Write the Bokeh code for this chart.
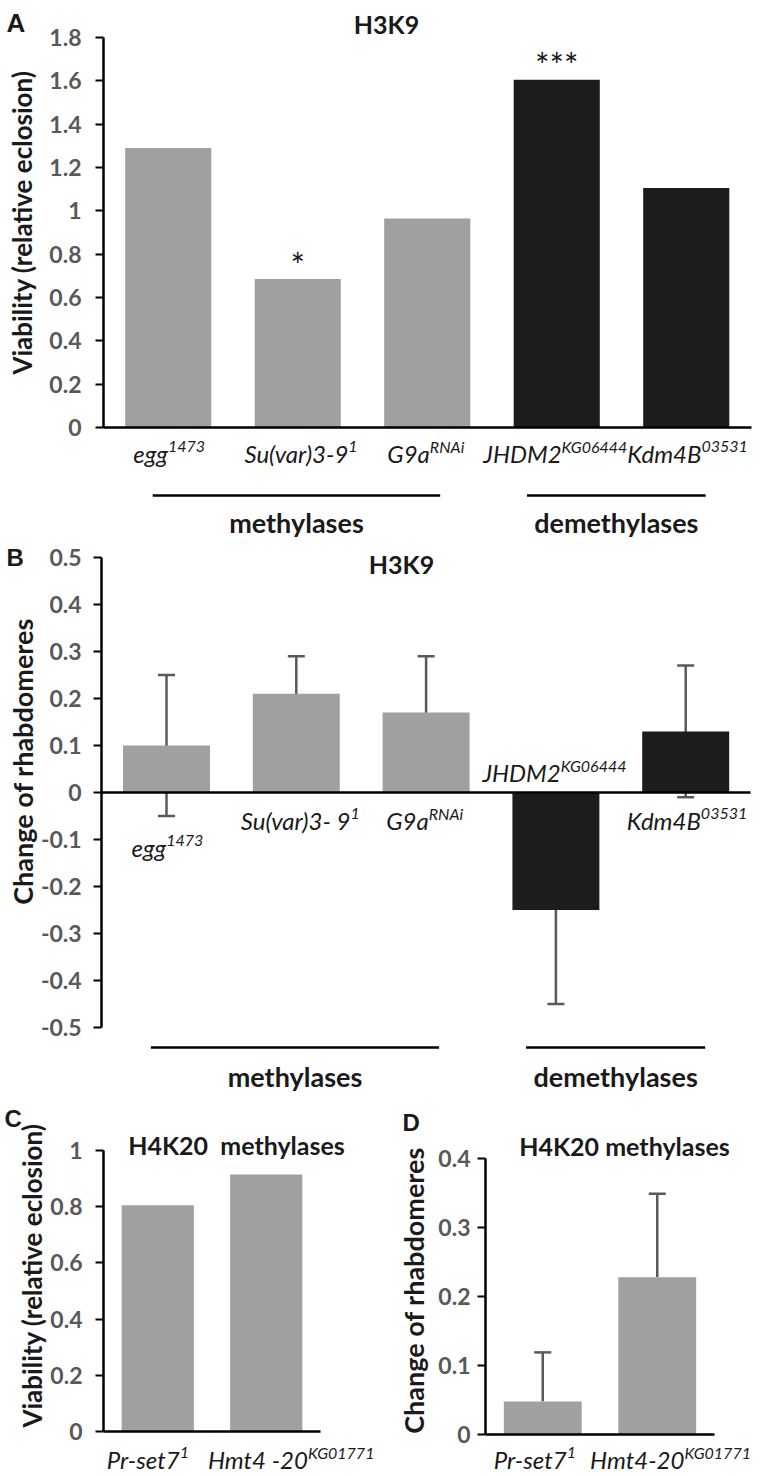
import numpy as np
from bokeh.plotting import figure
from bokeh.models import Range1d, LinearAxis, FixedTicker, ColumnDataSource, Whisker, TeeHead
from bokeh.layouts import column, row
from bokeh.embed import file_html
from bokeh.resources import INLINE
from bokeh.core.properties import value

# ---------------- data ----------------
h3k9_genes = ["egg", "Su(var)3-9", "G9a", "JHDM2", "Kdm4B"]
h3k9_genes_b = ["egg", "Su(var)3- 9", "G9a", "JHDM2", "Kdm4B"]
h3k9_alleles = ["1473", "1", "RNAi", "KG06444", "03531"]
h3k9_groups = ["methylases", "methylases", "methylases", "demethylases", "demethylases"]
viability_h3k9 = [1.29, 0.685, 0.965, 1.605, 1.105]
significance_h3k9 = ["", "*", "", "***", ""]
rhabdomere_h3k9 = [0.10, 0.21, 0.17, -0.25, 0.13]
rhabdomere_h3k9_err = [0.15, 0.08, 0.12, 0.20, 0.14]

h4k20_genes_c = ["Pr-set7", "Hmt4 -20"]
h4k20_genes_d = ["Pr-set7", "Hmt4-20"]
h4k20_alleles = ["1", "KG01771"]
viability_h4k20 = [0.805, 0.915]
rhabdomere_h4k20 = [0.048, 0.228]
rhabdomere_h4k20_err = [0.071, 0.121]

ticks_a = [0, 0.2, 0.4, 0.6, 0.8, 1, 1.2, 1.4, 1.6, 1.8]
ticks_b = [-0.5, -0.4, -0.3, -0.2, -0.1, 0, 0.1, 0.2, 0.3, 0.4, 0.5]
ticks_c = [0, 0.2, 0.4, 0.6, 0.8, 1]
ticks_d = [0, 0.1, 0.2, 0.3, 0.4]

# ---------------- style ----------------
FONT = "Lato"
GREY = "#a0a0a0"
BLACK = "#1c1c1c"
TEXT = "#1a1a1a"
TICK = "#595959"
GROUP_COLORS = {"methylases": GREY, "demethylases": BLACK}


class Panel:
    """Maps page pixels to data coordinates for one figure."""

    def __init__(self, left, top, w, h, x0, dx, y0, v1, y1):
        self.left, self.top, self.w, self.h = left, top, w, h
        self.x0, self.dx, self.y0 = x0, dx, y0
        self.k = (y0 - y1) / v1
        self.p = figure(
            width=w, height=h,
            x_range=Range1d(self.X(left), self.X(left + w)),
            y_range=Range1d(self.Y(top + h), self.Y(top)),
            x_axis_type=None, y_axis_type=None,
            toolbar_location=None, output_backend="svg",
            min_border=0, outline_line_color=None,
        )
        self.p.grid.visible = False

    def X(self, px):
        return (px - self.x0) / self.dx

    def Y(self, py):
        return (self.y0 - py) / self.k

    def text(self, px, py, s, size, style="bold", align="center",
             baseline="alphabetic", color=TEXT, font=FONT, angle=0):
        self.p.text(x=[self.X(px)], y=[self.Y(py)], text=[s],
                    text_font=value(font), text_font_style=style,
                    text_font_size=f"{size}px", text_align=align,
                    text_baseline=baseline, text_color=color, angle=angle)

    def axes(self, ticks, n, standoff):
        lo, hi = min(ticks), max(ticks)
        yax = LinearAxis(
            fixed_location=-0.5, bounds=(lo, hi),
            ticker=FixedTicker(ticks=ticks),
            major_label_overrides={t: f"{t:g}" for t in ticks},
            axis_line_width=2.5, axis_line_color="black",
            major_tick_in=0, major_tick_out=8, major_tick_line_width=2,
            major_tick_line_color="black", minor_tick_line_color=None,
            major_label_standoff=standoff,
            major_label_text_font=FONT, major_label_text_font_style="bold",
            major_label_text_font_size="23px", major_label_text_color=TICK,
        )
        self.p.add_layout(yax, "left")
        xax = LinearAxis(
            fixed_location=0, bounds=(-0.5, n - 0.5),
            ticker=FixedTicker(ticks=[]),
            axis_line_width=2.5, axis_line_color="black",
            major_tick_line_color=None, minor_tick_line_color=None,
            major_label_text_font_size="0px",
        )
        self.p.add_layout(xax, "below")


def est_width(s, fs):
    w = 0.0
    for ch in s:
        if ch.isdigit():
            w += 0.56
        elif ch in "il()-. ":
            w += 0.29
        elif ch.isupper():
            w += 0.64
        elif ch in "mw":
            w += 0.80
        else:
            w += 0.49
    return w * fs


def category_labels(P, genes, alleles, dy, shifts=None, fs=24, fs_sup=16, raise_px=7):
    n = len(genes)
    shifts = shifts or [0] * n
    xs = list(range(n))
    offs_base = []
    for g, a, s in zip(genes, alleles, shifts):
        wb, ws = est_width(g, fs), est_width(a, fs_sup)
        offs_base.append((wb - ws) / 2 + s)
    src = ColumnDataSource(dict(x=xs, y=[0] * n, g=genes, a=alleles,
                                xo=offs_base, yo=list(dy),
                                yo2=[d - raise_px for d in dy]))
    P.p.text(x="x", y="y", text="g", source=src, x_offset="xo", y_offset="yo",
             text_font=value(FONT), text_font_style="italic",
             text_font_size=f"{fs}px", text_align="right",
             text_baseline="alphabetic", text_color=TEXT)
    P.p.text(x="x", y="y", text="a", source=src, x_offset="xo", y_offset="yo2",
             text_font=value(FONT), text_font_style="italic",
             text_font_size=f"{fs_sup}px", text_align="left",
             text_baseline="alphabetic", text_color=TEXT)


def group_marks(P, groups, spans, line_py, text_py):
    names = list(dict.fromkeys(groups))
    for name in names:
        a, b = spans[name]
        P.p.segment(x0=[a], y0=[P.Y(line_py)], x1=[b], y1=[P.Y(line_py)],
                    line_color="black", line_width=2.5)
        cx = P.x0 + P.dx * (a + b) / 2
        P.text(cx, text_py, name, 27)


GROUP_SPANS = {"methylases": (-0.12, 2.10), "demethylases": (2.77, 4.15)}

# ---------------- panel A ----------------
A = Panel(0, 0, 760, 538, 167.75, 129.5, 427, 1.8, 37)
nA = len(h3k9_genes)
colorsA = [GROUP_COLORS[g] for g in h3k9_groups]
A.p.vbar(x=list(range(nA)), top=viability_h3k9, width=0.665,
         fill_color=colorsA, line_color=None)
A.p.text(x=list(range(nA)), y=viability_h3k9, text=significance_h3k9,
         y_offset=-15, text_font=value(FONT), text_font_size="34px",
         text_align="center", text_baseline="alphabetic", text_color=TEXT)
A.axes(ticks_a, nA, 14)
category_labels(A, h3k9_genes, h3k9_alleles, [26] * nA)
group_marks(A, h3k9_groups, GROUP_SPANS, 495, 522)
A.text(386, 23, "H3K9", 25)
A.text(6, 22, "A", 26, font="Liberation Sans", align="left")
A.text(21, 222, "Viability (relative eclosion)", 26, baseline="middle", angle=np.pi / 2)

# ---------------- panel B ----------------
B = Panel(0, 538, 760, 556, 166, 129.8, 792, 0.5, 557)
nB = len(h3k9_genes_b)
B.p.vbar(x=list(range(nB)), top=rhabdomere_h3k9, width=0.67,
         fill_color=colorsA, line_color=None)
errB = ColumnDataSource(dict(
    x=list(range(nB)),
    upper=[v + e for v, e in zip(rhabdomere_h3k9, rhabdomere_h3k9_err)],
    lower=[v - e for v, e in zip(rhabdomere_h3k9, rhabdomere_h3k9_err)]))
B.p.add_layout(Whisker(source=errB, base="x", upper="upper", lower="lower",
                       line_color=TICK, line_width=2.5,
                       upper_head=TeeHead(size=17, line_color=TICK, line_width=2.5),
                       lower_head=TeeHead(size=17, line_color=TICK, line_width=2.5)))
B.axes(ticks_b, nB, 12)
category_labels(B, h3k9_genes_b, h3k9_alleles, [55, 28, 28, -20, 28])
group_marks(B, h3k9_groups, GROUP_SPANS, 1047, 1076)
B.text(401, 563, "H3K9", 25)
B.text(6, 557, "B", 24, font="Liberation Sans", align="left")
B.text(22, 761, "Change of rhabdomeres", 27, baseline="middle", angle=np.pi / 2)

# ---------------- panel C ----------------
C = Panel(0, 1094, 380, 382, 157.25, 108.5, 1431, 1.0, 1150)
nC = len(h4k20_genes_c)
C.p.vbar(x=list(range(nC)), top=viability_h4k20, width=0.665,
         fill_color=GREY, line_color=None)
C.axes(ticks_c, nC, 13)
category_labels(C, h4k20_genes_c, h4k20_alleles, [28] * nC, shifts=[-15, 24])
C.text(236, 1144, "H4K20\u00a0\u00a0methylases", 25)
C.text(4, 1118, "C", 24, font="Liberation Sans", align="left")
C.text(31, 1275, "Viability (relative eclosion)", 26, baseline="middle", angle=np.pi / 2)

# ---------------- panel D ----------------
D = Panel(380, 1094, 380, 382, 542.25, 114.5, 1434, 0.4, 1158)
nD = len(h4k20_genes_d)
D.p.vbar(x=list(range(nD)), top=rhabdomere_h4k20, width=0.68,
         fill_color=GREY, line_color=None)
errD = ColumnDataSource(dict(
    x=list(range(nD)), lower=rhabdomere_h4k20,
    upper=[v + e for v, e in zip(rhabdomere_h4k20, rhabdomere_h4k20_err)]))
D.p.add_layout(Whisker(source=errD, base="x", upper="upper", lower="lower",
                       line_color=TICK, line_width=2.5,
                       upper_head=TeeHead(size=17, line_color=TICK, line_width=2.5),
                       lower_head=None))
D.axes(ticks_d, nD, 7)
category_labels(D, h4k20_genes_d, h4k20_alleles, [25] * nD, shifts=[-13, 13])
D.text(624, 1145, "H4K20 methylases", 25)
D.text(402, 1122, "D", 24, font="Liberation Sans", align="left")
D.text(413, 1290, "Change of rhabdomeres", 27, baseline="middle", angle=np.pi / 2)

layout = column(A.p, B.p, row(C.p, D.p))
open("out.html", "w").write(file_html(layout, INLINE))
